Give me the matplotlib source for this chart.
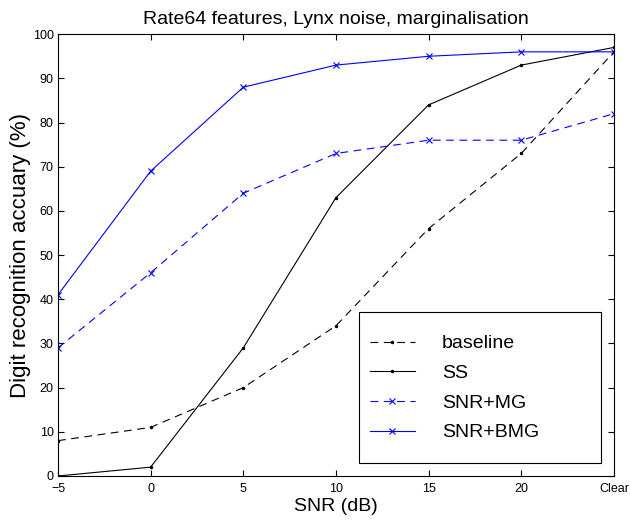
import matplotlib
matplotlib.use('Agg')
import matplotlib.pyplot as plt
from matplotlib.patches import Rectangle

plt.rcParams['font.family'] = ['Liberation Sans', 'DejaVu Sans']

# SNR positions (Clear drawn at 25)
snr = [-5, 0, 5, 10, 15, 20, 25]
tick_labels = ['\u22125', '0', '5', '10', '15', '20', 'Clear']

baseline = [8, 11, 20, 34, 56, 73, 96]
ss = [0, 2, 29, 63, 84, 93, 97]
snr_mg = [29, 46, 64, 73, 76, 76, 82]
snr_bmg = [41, 69, 88, 93, 95, 96, 96]

fig = plt.figure(figsize=(6.3, 5.21), dpi=100)
ax = fig.add_axes([0.092, 0.0864, 0.8825, 0.848])

ax.plot(snr, baseline, color='k', ls='--', dashes=(7, 5), lw=0.8,
        marker='.', ms=3, label='baseline')
ax.plot(snr, ss, color='k', ls='-', lw=0.8, marker='.', ms=3, label='SS')
ax.plot(snr, snr_mg, color='#0000ff', ls='--', dashes=(7, 5), lw=0.8,
        marker='x', ms=4.5, mew=0.8, label='SNR+MG')
ax.plot(snr, snr_bmg, color='#0000ff', ls='-', lw=0.8,
        marker='x', ms=4.5, mew=0.8, label='SNR+BMG')

ax.set_xlim(-5, 25)
ax.set_ylim(0, 100)
ax.set_xticks(snr)
ax.set_xticklabels(tick_labels)
ax.set_yticks(range(0, 101, 10))
ax.tick_params(direction='in', top=True, right=True, labelsize=9, length=4.5, width=0.8)
ax.tick_params(axis='x', pad=5)
ax.tick_params(axis='y', pad=3)
for s in ax.spines.values():
    s.set_linewidth(0.8)

ax.set_xlabel('SNR (dB)', fontsize=14, labelpad=2)
ax.set_ylabel('Digit recognition accuary (%)', fontsize=16, labelpad=1.5)
ax.set_title('Rate64 features, Lynx noise, marginalisation', fontsize=14, pad=7)

# legend box drawn separately, entries placed inside it
ax.add_patch(Rectangle((0.5414, 0.0294), 0.4352, 0.3416, transform=ax.transAxes,
                       facecolor='white', edgecolor='k', lw=0.8, zorder=4))
leg = ax.legend(loc='center left', bbox_to_anchor=(0.561, 0.199), frameon=False,
                fontsize=14, handlelength=2.3, handletextpad=1.4, borderpad=0,
                labelspacing=0.62, borderaxespad=0)
leg.set_zorder(5)

fig.savefig('out.png', dpi=100)
